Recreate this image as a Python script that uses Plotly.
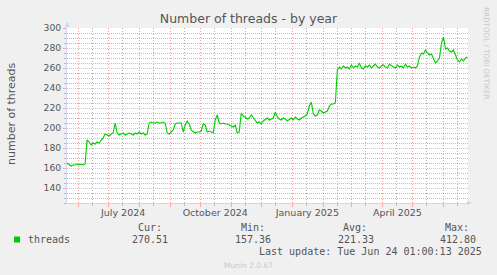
import plotly.graph_objects as go
import pandas as pd

# ---------------- data ----------------
start_date = "2024-05-21"
threads = (
    [165, 163, 162, 163, 163, 164, 163, 164, 163, 164]
    + [188, 186, 183, 185, 184, 186, 185, 188, 190]
    + [194, 193, 192, 194, 195]
    + [205]
    + [195, 193, 194, 195, 193, 194, 195, 194, 193, 195, 194, 196, 194, 195, 193, 194]
    + [205, 206, 205, 205, 206, 205, 205, 206, 205]
    + [195, 194, 196, 198]
    + [204, 205, 205, 205]
    + [196]
    + [203, 207, 204]
    + [198, 196, 195, 196, 196, 197]
    + [204, 203]
    + [196, 197, 196, 195]
    + [208, 213]
    + [205, 204, 205, 204, 204, 203, 202, 201, 203]
    + [195, 196]
    + [215, 212, 211, 209, 210, 213]
    + [210, 207, 205, 206, 204]
    + [207, 209, 210, 208, 209, 210]
    + [216, 211, 209]
    + [208, 210, 209, 207, 209, 210, 208, 211, 209, 208, 210]
    + [211, 212, 214, 222, 226, 214, 212, 213, 218, 217, 215, 216, 217, 222, 224, 224, 225, 258, 261, 259]
    + [262, 260, 261, 259, 263, 260, 262, 261, 265, 260, 259, 262, 261, 263, 260, 262, 264, 261, 260,
       262, 263, 261, 260, 264, 262, 261, 260, 263, 261, 262, 260, 264, 261, 262, 260, 261, 260]
    + [262, 271, 275, 274, 278, 275, 273, 274, 270, 265, 267, 270, 285, 291, 279, 280, 277, 276, 278,
       273, 268, 266, 269, 267, 270, 271]
)
dates = pd.date_range(start_date, periods=len(threads), freq="2D")

month_starts = pd.date_range("2024-06-01", "2025-06-01", freq="MS")
mid_months = [d + pd.Timedelta(days=14) for d in month_starts]
label_dates = ["2024-07-16", "2024-10-16", "2025-01-16", "2025-04-16"]
label_texts = ["July 2024", "October 2024", "January 2025", "April 2025"]
x_range = ["2024-05-20 22:00", "2025-06-25 12:00"]
y_range = [125, 300]

series_name = "threads"
stat_labels = ["Cur:", "Min:", "Avg:", "Max:"]
stat_values = ["270.51", "157.36", "221.33", "412.80"]
last_update = "Last update: Tue Jun 24 01:00:13 2025"

# ---------------- layout helpers ----------------
W, H = 497, 275
L, R, T, B = 67, 468, 28, 203


def px(x):
    return (x - L) / (R - L)


def py(y):
    return (B - y) / (B - T)


FONT = "DejaVu Sans"
MONO = "DejaVu Sans Mono"
FONT_C = "#555555"
RED_GRID = "rgba(255,0,0,0.3)"
RED_VGRID = "rgba(255,0,0,0.42)"
GRAY_GRID = "rgba(110,110,110,0.45)"
GRAY_VGRID = "rgba(110,110,110,0.55)"
AXIS_C = "#CFD6F8"

fig = go.Figure()
fig.add_trace(go.Scatter(x=dates, y=threads, mode="lines",
                         line=dict(color="#00CC00", width=1.1),
                         showlegend=False, hoverinfo="skip"))
fig.add_trace(go.Scatter(x=[], y=[], xaxis="x2", showlegend=False))

fig.update_layout(
    width=W, height=H,
    margin=dict(l=L, r=W - R, t=T, b=H - B, pad=0),
    paper_bgcolor="#F0F0F0",
    plot_bgcolor="#FFFFFF",
    title=dict(text="Number of threads - by year", x=0.5, xref="container",
               y=1 - 19 / H, yref="container", xanchor="center", yanchor="middle",
               font=dict(family=FONT, size=12.5, color=FONT_C)),
    xaxis=dict(
        type="date", range=x_range,
        tickmode="array", tickvals=list(month_starts), showticklabels=False,
        showgrid=True, gridcolor=RED_VGRID, griddash="1px,2px", gridwidth=1,
        ticks="outside", ticklen=3, tickcolor=RED_GRID,
        minor=dict(tickmode="array", tickvals=mid_months, showgrid=True,
                   gridcolor=GRAY_VGRID, griddash="1px,2px", ticks="outside",
                   ticklen=2, tickcolor=GRAY_GRID),
        showline=True, linecolor=AXIS_C, linewidth=1,
        zeroline=False, fixedrange=True,
    ),
    xaxis2=dict(
        type="date", range=x_range, overlaying="x", side="bottom", anchor="y",
        tickmode="array", tickvals=label_dates, ticktext=label_texts,
        showgrid=False, ticks="", showline=False, zeroline=False,
        tickfont=dict(family=FONT, size=9.5, color=FONT_C),
        ticklabelstandoff=2,
    ),
    yaxis=dict(
        range=y_range, tick0=0, dtick=20,
        showgrid=True, gridcolor=RED_GRID, griddash="1px,1px", gridwidth=1,
        ticks="outside", ticklen=3, tickcolor=RED_GRID,
        minor=dict(dtick=5, tick0=0, showgrid=True, gridcolor=GRAY_GRID,
                   griddash="1px,1px", ticks="outside", ticklen=2, tickcolor=GRAY_GRID),
        showline=True, linecolor=AXIS_C, linewidth=1,
        zeroline=False, fixedrange=True,
        tickfont=dict(family=FONT, size=9.2, color=FONT_C),
    ),
)

ann = []
# y axis title
ann.append(dict(text="number of threads", x=px(11), y=py(114), xref="paper", yref="paper",
                textangle=-90, showarrow=False, xanchor="center", yanchor="middle",
                font=dict(family=FONT, size=11, color=FONT_C)))
# axis arrows
ann.append(dict(text="", x=0, y=py(22), xref="paper", yref="paper", ax=0, ay=7,
                showarrow=True, arrowhead=2, arrowsize=1, arrowwidth=1, arrowcolor=AXIS_C))
ann.append(dict(text="", x=px(472), y=0, xref="paper", yref="paper", ax=-7, ay=0,
                showarrow=True, arrowhead=2, arrowsize=1, arrowwidth=1, arrowcolor=AXIS_C))
# watermark
ann.append(dict(text="RRDTOOL / TOBI OETIKER", x=px(487), y=py(53), xref="paper", yref="paper",
                textangle=90, showarrow=False, xanchor="center", yanchor="middle",
                font=dict(family=FONT, size=7.2, color="#C8C8C8")))
# legend
ann.append(dict(text=series_name, x=px(26), y=py(239.5), xref="paper", yref="paper",
                showarrow=False, xanchor="left", yanchor="middle",
                font=dict(family=MONO, size=10, color=FONT_C)))
label_right = [164, 267, 369, 471]
value_right = [170, 273, 376, 477.5]
for lab, val, lr, vr in zip(stat_labels, stat_values, label_right, value_right):
    ann.append(dict(text=lab, x=px(lr), y=py(227.5), xref="paper", yref="paper",
                    showarrow=False, xanchor="right", yanchor="middle",
                    font=dict(family=MONO, size=10, color=FONT_C)))
    ann.append(dict(text=val, x=px(vr), y=py(239.5), xref="paper", yref="paper",
                    showarrow=False, xanchor="right", yanchor="middle",
                    font=dict(family=MONO, size=10, color=FONT_C)))
ann.append(dict(text=last_update, x=px(484), y=py(251.5), xref="paper", yref="paper",
                showarrow=False, xanchor="right", yanchor="middle",
                font=dict(family=MONO, size=10, color=FONT_C)))
ann.append(dict(text="Munin 2.0.67", x=px(248), y=py(265), xref="paper", yref="paper",
                showarrow=False, xanchor="center", yanchor="middle",
                font=dict(family=FONT, size=7.5, color="#C8C8C8")))
fig.update_layout(annotations=ann)

fig.add_shape(type="rect", xref="paper", yref="paper",
              x0=px(14), x1=px(20), y0=py(242.5), y1=py(236.5),
              fillcolor="#00CC00", line=dict(width=0))

fig.write_html("out.html", config={"displayModeBar": False})
